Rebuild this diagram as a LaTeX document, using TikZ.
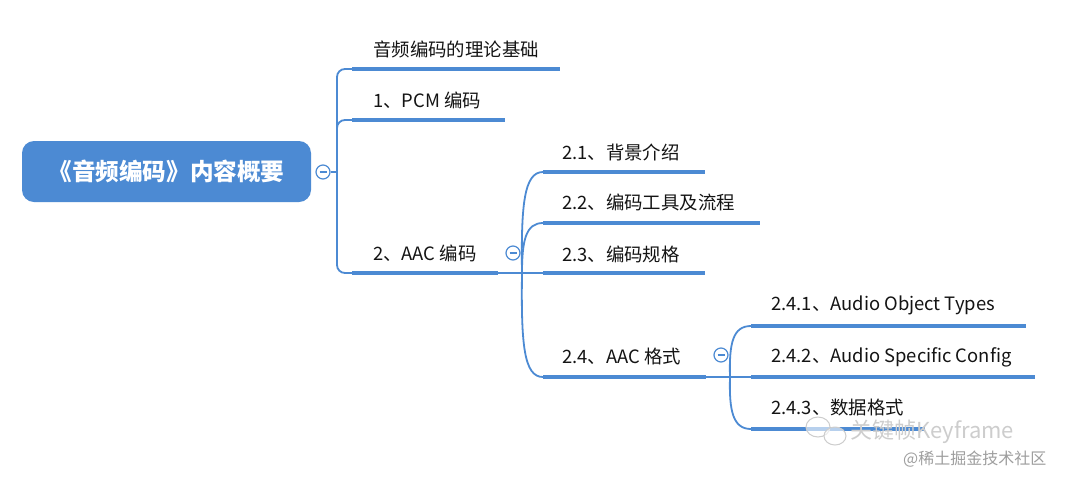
\documentclass[tikz,border=0pt]{standalone}
\usepackage{fontspec}
\setmainfont{Noto Sans CJK SC}
\definecolor{mmblue}{RGB}{76,138,211}
\definecolor{txt}{RGB}{20,20,20}
\definecolor{wm}{RGB}{205,205,205}
\begin{document}
\begin{tikzpicture}[x=1pt,y=-1pt,
 conn/.style={draw=mmblue, line width=1.8pt},
 uline/.style={draw=mmblue, line width=4pt},
 lbl/.style={anchor=west, inner sep=0pt, text=txt, font=\fontsize{18.4}{18.4}\selectfont},
 tog/.style={circle, draw=mmblue, line width=1.2pt, fill=white, minimum size=14pt, inner sep=0pt},
 wmtext/.style={inner sep=0pt, anchor=west, text=wm}
]
\useasboundingbox (0,0) rectangle (1080,483);
\fill[white] (0,0) rectangle (1080,483);

% root
\node[fill=mmblue, rounded corners=12pt, minimum width=289pt, minimum height=61pt, inner sep=0pt,
      text=white, font=\fontsize{23.6}{23.6}\selectfont\bfseries] (root) at (166.5,171.5) {《音频编码》内容概要};
\node[tog] (tog0) at (323,172) {};
\draw[mmblue, line width=1.2pt] (tog0.center) ++(-3.5,0) -- ++(7,0);

% level 1 coordinates
\coordinate (a1s) at (352,69);  \coordinate (a1e) at (560,69);
\coordinate (a2s) at (352,120); \coordinate (a2e) at (505,120);
\coordinate (a3s) at (352,273); \coordinate (a3e) at (498,273);
\coordinate (stem1) at (337,172);

\draw[conn] (tog0.east) -- (stem1);
\draw[conn, rounded corners=8pt] (a1s) -- (337,69) -- (337,273) -- (a3s);
\draw[conn, rounded corners=8pt] (337,140) -- (337,120) -- (a2s);

\draw[uline] (a1s) -- (a1e);
\draw[uline] (a2s) -- (a2e);
\draw[uline] (a3s) -- (a3e);
\node[lbl] (n1) at (373,49) {音频编码的理论基础};
\node[lbl] (n2) at (373,100) {1、PCM 编码};
\node[lbl] (n3) at (373,253) {2、AAC 编码};
\node[tog] (tog1) at (513,253) {};
\draw[mmblue, line width=1.2pt] (tog1.center) ++(-3.5,0) -- ++(7,0);

% level 2
\coordinate (b1s) at (543,172); \coordinate (b1e) at (705,172);
\coordinate (b2s) at (543,223); \coordinate (b2e) at (760,223);
\coordinate (b3s) at (543,273); \coordinate (b3e) at (705,273);
\coordinate (b4s) at (543,377); \coordinate (b4e) at (706,377);
\coordinate (stem2) at (522,273);

\draw[conn] (a3e) -- (b3s);
\draw[conn] (stem2) .. controls (521,205) and (524,172) .. (b1s);
\draw[conn] (stem2) .. controls (522,240) and (526,223) .. (b2s);
\draw[conn] (stem2) .. controls (521,345) and (524,377) .. (b4s);

\draw[uline] (b1s) -- (b1e);
\draw[uline] (b2s) -- (b2e);
\draw[uline] (b3s) -- (b3e);
\draw[uline] (b4s) -- (b4e);
\node[lbl] (m1) at (562,152) {2.1、背景介绍};
\node[lbl] (m2) at (562,202) {2.2、编码工具及流程};
\node[lbl] (m3) at (562,254) {2.3、编码规格};
\node[lbl] (m4) at (562,357) {2.4、AAC 格式};
\node[tog] (tog2) at (721,355) {};
\draw[mmblue, line width=1.2pt] (tog2.center) ++(-3.5,0) -- ++(7,0);

% level 3
\coordinate (c1s) at (751,326); \coordinate (c1e) at (1026,326);
\coordinate (c2s) at (751,377); \coordinate (c2e) at (1035,377);
\coordinate (c3s) at (751,429); \coordinate (c3e) at (925,429);
\coordinate (stem3) at (730,377);

\draw[conn] (b4e) -- (c2s);
\draw[conn] (stem3) .. controls (729,343) and (733,326) .. (c1s);
\draw[conn] (stem3) .. controls (729,411) and (733,429) .. (c3s);

\draw[uline] (c1s) -- (c1e);
\draw[uline] (c2s) -- (c2e);
\draw[uline] (c3s) -- (c3e);
\node[lbl] (k1) at (771,305) {2.4.1、Audio Object Types};
\node[lbl] (k2) at (771,357) {2.4.2、Audio Specific Config};
\node[lbl] (k3) at (771,408) {2.4.3、数据格式};

% watermark
\begin{scope}[draw=wm, line width=1pt]
 \draw[fill=white, fill opacity=0.6] (818,427) ellipse (12pt and 10pt);
 \draw[fill=white, fill opacity=0.6] (835,436) ellipse (11pt and 9pt);
\end{scope}
\node[wmtext, font=\fontsize{22}{22}\selectfont] (wm1) at (850,432) {关键帧Keyframe};
\node[wmtext, text=black!38, font=\fontsize{16}{16}\selectfont] (wm2) at (903,459) {@稀土掘金技术社区};
\end{tikzpicture}
\end{document}
